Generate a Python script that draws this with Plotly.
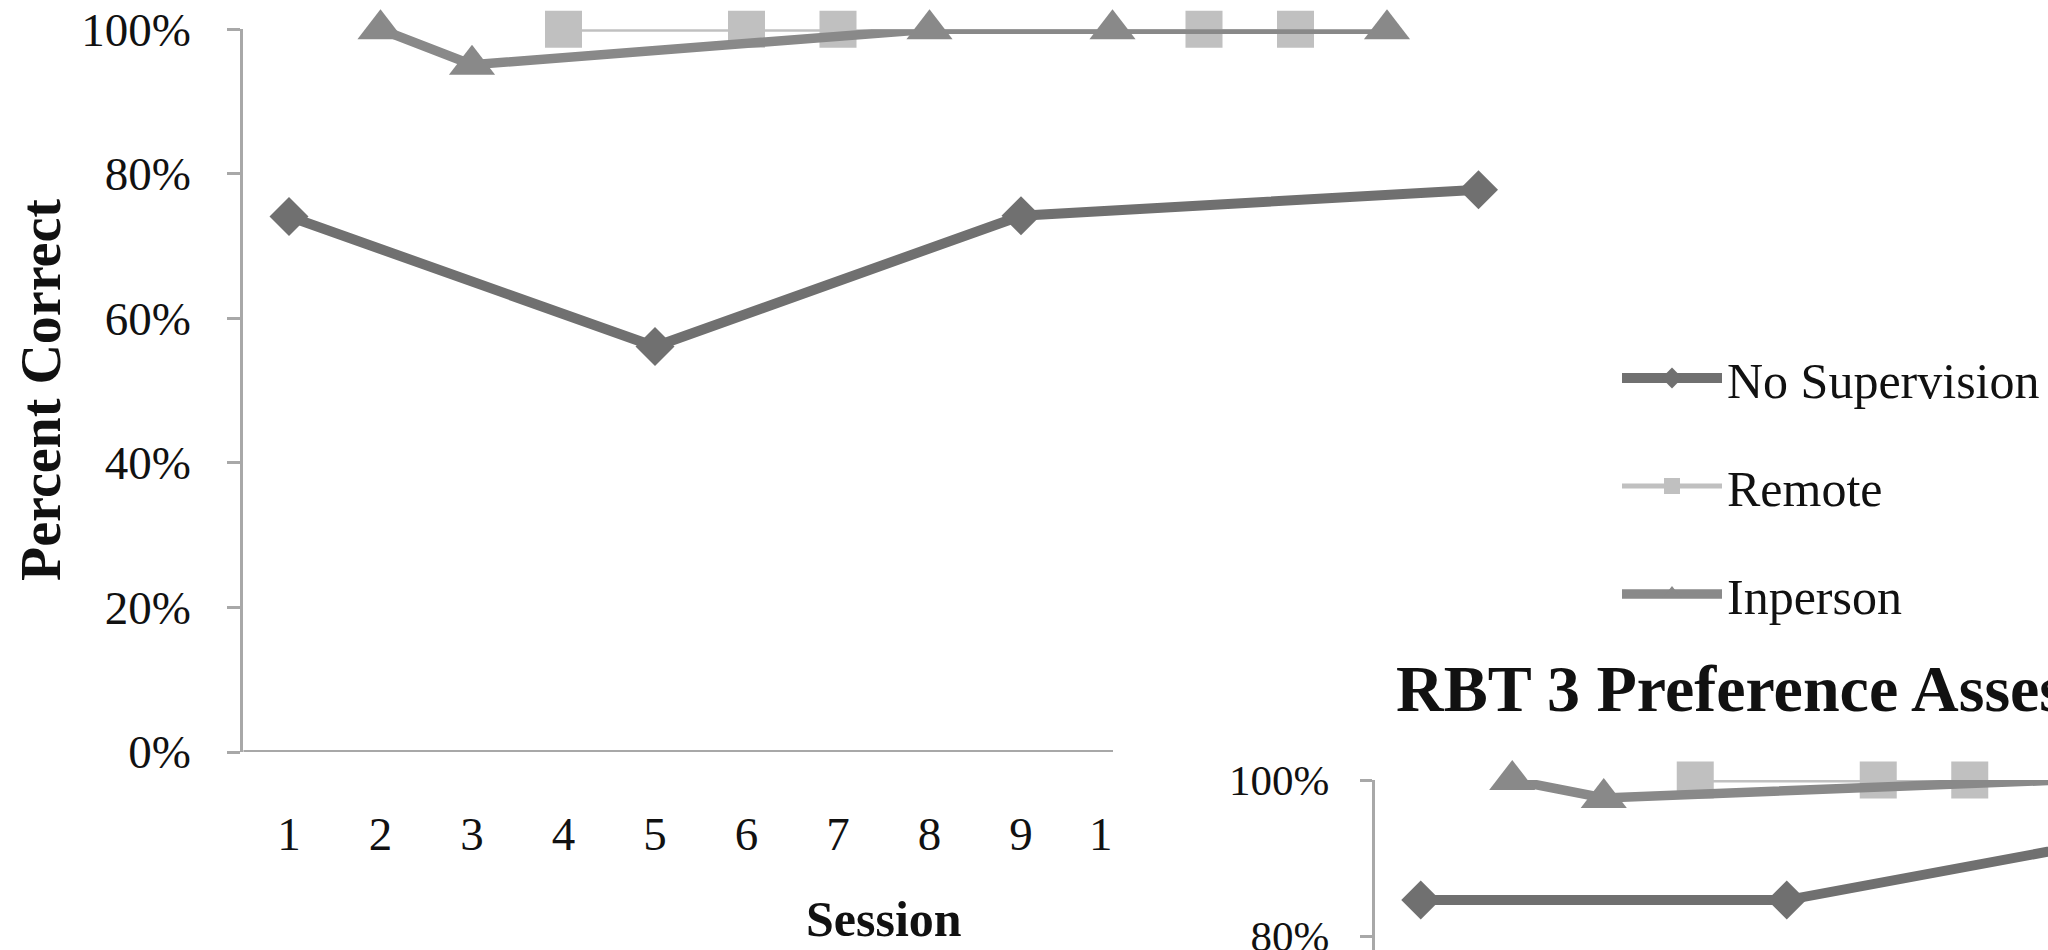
import plotly.graph_objects as go

W, H = 2048, 950

# ---------------- data ----------------
# Chart 1 (top-left)
nosup1_sessions = [1, 5, 9, 14]
nosup1_values = [0.741, 0.561, 0.742, 0.778]
remote1_sessions = [4, 6, 7, 11, 12]
remote1_values = [1.0, 1.0, 1.0, 1.0, 1.0]
inperson1_sessions = [2, 3, 8, 10, 13]
inperson1_values = [1.0, 0.951, 1.0, 1.0, 1.0]
x_ticks1 = [1, 2, 3, 4, 5, 6, 7, 8, 9, 10]
y_ticks1 = [0, 0.2, 0.4, 0.6, 0.8, 1.0]

# Chart 2 (RBT 3, bottom-right, mostly off-page)
nosup2_sessions = [1, 5, 9]
nosup2_values = [0.846, 0.846, 0.933]
remote2_sessions = [4, 6, 7]
remote2_values = [1.0, 1.0, 1.0]
inperson2_sessions = [2, 3, 8]
inperson2_values = [1.0, 0.977, 1.0]
y_ticks2 = [0.8, 1.0]

series_names = ["No Supervision", "Remote", "Inperson"]
chart2_title = "RBT 3 Preference Assessment"

# ---------------- styling ----------------
FONT = "Liberation Serif"
C_NOSUP = "#707070"
C_REMOTE = "#c0c0c0"
C_INPERSON = "#898989"
AXIS_C = "#a8a8a8"


def fx(px):
    return px / W


def fy(py):
    return 1 - py / H


fig = go.Figure()

# geometry (pixels)
c1_step = 91.5
c1_first = 289.0
c1_left = c1_first - c1_step / 2
c1_right_full = c1_first + 13.5 * c1_step
c1_right_vis = 1113.0
c1_top, c1_bot = 29.3, 752.0
c2_left, c2_top, c2_80 = 1375.0, 780.0, 936.0
c2_step = 91.5

styles = {
    "No Supervision": dict(color=C_NOSUP, lw=10, sym="diamond", ms=30),
    "Remote": dict(color=C_REMOTE, lw=5, sym="square", ms=37),
    "Inperson": dict(color=C_INPERSON, lw=9.5, sym="triangle-up", ms=40),
}

chart1 = {
    "No Supervision": (nosup1_sessions, nosup1_values),
    "Remote": (remote1_sessions, remote1_values),
    "Inperson": (inperson1_sessions, inperson1_values),
}
chart2 = {
    "No Supervision": (nosup2_sessions, nosup2_values),
    "Remote": (remote2_sessions, remote2_values),
    "Inperson": (inperson2_sessions, inperson2_values),
}

for name in series_names:
    s = styles[name]
    xs, ys = chart1[name]
    fig.add_trace(go.Scatter(
        x=xs, y=ys, name=name, mode="lines+markers",
        line=dict(color=s["color"], width=s["lw"]),
        marker=dict(symbol=s["sym"], size=s["ms"], color=s["color"]),
        cliponaxis=False, xaxis="x", yaxis="y",
        legendgroup=name, showlegend=True,
    ))

for name in series_names:
    s = styles[name]
    xs, ys = chart2[name]
    fig.add_trace(go.Scatter(
        x=xs, y=ys, name=name, mode="lines+markers",
        line=dict(color=s["color"], width=s["lw"]),
        marker=dict(symbol=s["sym"], size=s["ms"], color=s["color"]),
        cliponaxis=False, xaxis="x2", yaxis="y2",
        legendgroup=name, showlegend=False,
    ))

c1_xmax = 0.5 + (c1_right_full - c1_left) / c1_step
c1_xvis = 0.5 + (c1_right_vis - c1_left) / c1_step
c2_xmax = 0.5 + (W - c2_left) / c2_step
c2_ymin = 1.0 - (H - c2_top) / (c2_80 - c2_top) * 0.2

tickfont1 = dict(family=FONT, size=47, color="#111111")
tickfont2 = dict(family=FONT, size=43, color="#111111")

fig.update_layout(
    width=W, height=H,
    margin=dict(l=0, r=0, t=0, b=0, autoexpand=False),
    paper_bgcolor="white", plot_bgcolor="rgba(0,0,0,0)",
    showlegend=True,
    legend=dict(
        x=fx(1617), y=fy(339), xanchor="left", yanchor="top",
        font=dict(family=FONT, size=50, color="#111111"),
        tracegroupgap=40, itemwidth=100, bgcolor="rgba(0,0,0,0)",
    ),
    # chart 1 (category axis line drawn only up to where chart 2 begins)
    xaxis=dict(domain=[fx(c1_left), fx(c1_right_full)], range=[0.5, c1_xmax],
               tickvals=x_ticks1, showline=False, showgrid=False, zeroline=False,
               ticks="", tickfont=tickfont1, ticklabelstandoff=50,
               anchor="y", automargin=False),
    yaxis=dict(domain=[fy(c1_bot), fy(c1_top)], range=[0, 1],
               tickvals=y_ticks1, tickformat=".0%", showgrid=False, zeroline=False,
               showline=True, linecolor=AXIS_C, linewidth=3,
               ticks="outside", ticklen=13, tickwidth=3, tickcolor=AXIS_C,
               tickfont=tickfont1, ticklabelstandoff=27, anchor="x", automargin=False),
    # chart 2
    xaxis2=dict(domain=[fx(c2_left), 1.0], range=[0.5, c2_xmax],
                showline=False, showticklabels=False, showgrid=False, zeroline=False,
                anchor="y2", automargin=False),
    yaxis2=dict(domain=[0, fy(c2_top)], range=[c2_ymin, 1.0],
                tickvals=y_ticks2, tickformat=".0%", showgrid=False, zeroline=False,
                showline=True, linecolor=AXIS_C, linewidth=3,
                ticks="outside", ticklen=12, tickwidth=3, tickcolor=AXIS_C,
                tickfont=tickfont2, ticklabelstandoff=22, ticklabeloverflow="allow",
                anchor="x2", automargin=False),
    annotations=[
        dict(text="<b>Percent Correct</b>", x=fx(41), y=fy(390), xref="paper", yref="paper",
             xanchor="center", yanchor="middle", textangle=-90, showarrow=False,
             font=dict(family=FONT, size=56, color="#111111")),
        dict(text="<b>Session</b>", x=fx(884), y=fy(919), xref="paper", yref="paper",
             xanchor="center", yanchor="middle", showarrow=False,
             font=dict(family=FONT, size=50, color="#111111")),
        dict(text="<b>" + chart2_title + "</b>", x=fx(1394), y=fy(688), xref="paper", yref="paper",
             xanchor="left", yanchor="middle", showarrow=False,
             font=dict(family=FONT, size=66, color="#111111")),
    ],
    shapes=[
        # chart 1 category-axis line, in data coordinates of chart 1
        dict(type="line", xref="x", yref="y", layer="below",
             x0=0.5, x1=c1_xvis, y0=0, y1=0,
             line=dict(color=AXIS_C, width=4)),
        # chart 2's white frame hides the rest of chart 1's last tick label
        dict(type="rect", xref="paper", yref="paper", layer="above",
             x0=fx(1113), x1=fx(1175), y0=fy(875), y1=fy(785),
             fillcolor="white", line=dict(width=0)),
    ],
)

fig.write_html("out.html")
